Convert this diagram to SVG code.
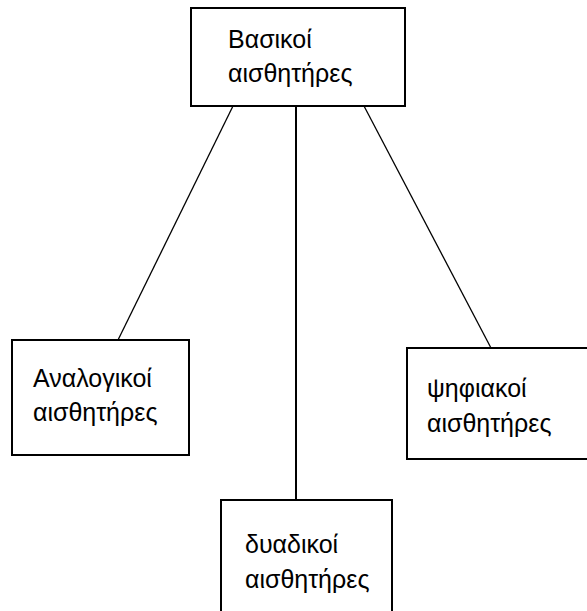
<svg xmlns="http://www.w3.org/2000/svg" width="587" height="611" viewBox="0 0 587 611">
<style>
.box{fill:#fff;stroke:#000;stroke-width:2}
.t{font-family:"Liberation Sans",Arial,sans-serif;font-size:25px;fill:#000}
.c{stroke:#000;stroke-width:1.3;fill:none}
</style>
<rect width="587" height="611" fill="#fff"/>
<g id="connectors">
<line class="c" x1="233" y1="106" x2="118" y2="340"/>
<line class="c" x1="296" y1="106" x2="296" y2="500" style="stroke-width:2"/>
<line class="c" x1="364" y1="106" x2="491" y2="348"/>
</g>
<g id="node-basic">
<rect class="box" x="191" y="8" width="214" height="98"/>
<text class="t" x="228" y="48">Βασικοί</text>
<text class="t" x="228" y="82">αισθητήρες</text>
</g>
<g id="node-analog">
<rect class="box" x="12" y="340" width="177" height="115"/>
<text class="t" x="33" y="387">Αναλογικοί</text>
<text class="t" x="33" y="421">αισθητήρες</text>
</g>
<g id="node-digital">
<rect class="box" x="407" y="348" width="184" height="111"/>
<text class="t" x="427" y="397">ψηφιακοί</text>
<text class="t" x="427" y="432">αισθητήρες</text>
</g>
<g id="node-binary">
<rect class="box" x="221" y="500" width="171" height="120"/>
<text class="t" x="245" y="553">δυαδικοί</text>
<text class="t" x="245" y="588">αισθητήρες</text>
</g>
</svg>
